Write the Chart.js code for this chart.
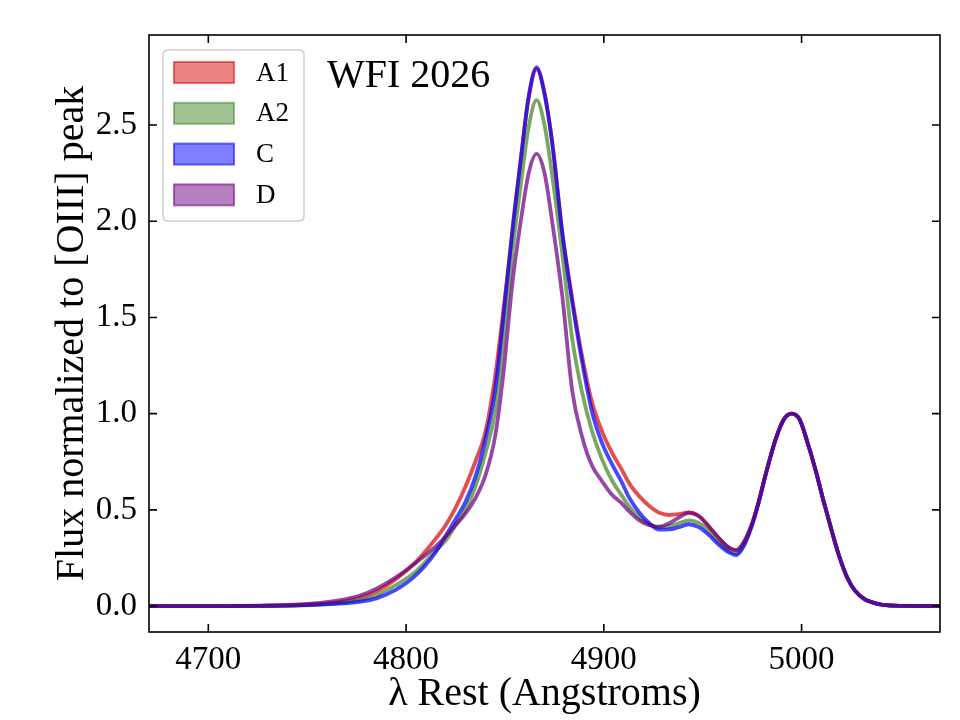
<!DOCTYPE html>
<html>
<head>
<meta charset="utf-8">
<script src="https://cdn.jsdelivr.net/npm/chart.js@4.4.1/dist/chart.umd.min.js"></script>
<style>
  html, body { margin: 0; padding: 0; background: #ffffff; }
  #wrap { width: 960px; height: 720px; position: relative; }
</style>
</head>
<body>
<div id="wrap"><canvas id="c" width="960" height="720"></canvas></div>
<script>
// ---- data ----
const lambda = [4670, 4707, 4726, 4746, 4766, 4776, 4785, 4795, 4805, 4815,
  4820, 4825, 4830, 4835, 4840, 4845, 4849, 4854, 4858, 4862,
  4866, 4870, 4874, 4879, 4884, 4889, 4894, 4899, 4904, 4909,
  4913, 4918, 4923, 4928, 4933, 4938, 4943, 4948, 4953, 4958,
  4963, 4967, 4971, 4975, 4978, 4982, 4987, 4991, 4995, 4999,
  5003, 5007, 5011, 5015, 5019, 5023, 5027, 5032, 5037, 5041,
  5051, 5070];

const fluxA1 = [0, 0, 0.001, 0.005, 0.02, 0.04, 0.075, 0.14, 0.23, 0.35,
  0.42, 0.51, 0.62, 0.75, 0.90, 1.19, 1.52, 1.96, 2.32, 2.64,
  2.79, 2.67, 2.40, 1.94, 1.60, 1.30, 1.06, 0.91, 0.80, 0.71,
  0.635, 0.57, 0.52, 0.485, 0.473, 0.478, 0.487, 0.468, 0.415, 0.355,
  0.305, 0.29, 0.335, 0.43, 0.53, 0.69, 0.87, 0.97, 1.0, 0.97,
  0.85, 0.71, 0.55, 0.40, 0.26, 0.15, 0.08, 0.035, 0.015, 0.006,
  0.001, 0];

const fluxA2 = [0, 0, 0.001, 0.004, 0.015, 0.03, 0.055, 0.11, 0.18, 0.29,
  0.34, 0.42, 0.50, 0.62, 0.79, 1.01, 1.36, 1.86, 2.19, 2.49,
  2.63, 2.50, 2.23, 1.83, 1.39, 1.11, 0.91, 0.765, 0.655, 0.575,
  0.515, 0.46, 0.425, 0.41, 0.415, 0.43, 0.445, 0.432, 0.39, 0.335,
  0.29, 0.275, 0.325, 0.425, 0.53, 0.69, 0.87, 0.97, 1.0, 0.97,
  0.85, 0.71, 0.55, 0.40, 0.26, 0.15, 0.08, 0.035, 0.015, 0.006,
  0.001, 0];

const fluxC = [0, 0, 0.001, 0.003, 0.012, 0.022, 0.04, 0.085, 0.16, 0.28,
  0.365, 0.45, 0.54, 0.67, 0.86, 1.12, 1.48, 1.98, 2.32, 2.65,
  2.80, 2.66, 2.40, 1.94, 1.58, 1.27, 1.01, 0.85, 0.74, 0.645,
  0.56, 0.485, 0.43, 0.397, 0.398, 0.41, 0.425, 0.41, 0.37, 0.32,
  0.28, 0.265, 0.315, 0.42, 0.525, 0.69, 0.87, 0.97, 1.0, 0.97,
  0.85, 0.71, 0.55, 0.40, 0.26, 0.15, 0.08, 0.035, 0.015, 0.006,
  0.001, 0];

const fluxD = [0, 0, 0.002, 0.008, 0.03, 0.052, 0.09, 0.15, 0.225, 0.31,
  0.36, 0.42, 0.48, 0.56, 0.675, 0.88, 1.19, 1.70, 2.0, 2.25,
  2.35, 2.25, 1.99, 1.61, 1.12, 0.88, 0.73, 0.65, 0.58, 0.535,
  0.49, 0.445, 0.42, 0.413, 0.43, 0.46, 0.484, 0.468, 0.415, 0.355,
  0.305, 0.29, 0.335, 0.43, 0.53, 0.69, 0.87, 0.97, 1.0, 0.97,
  0.85, 0.71, 0.55, 0.40, 0.26, 0.15, 0.08, 0.035, 0.015, 0.006,
  0.001, 0];

const seriesLabels = ['A1', 'A2', 'C', 'D'];
const xTicks = [4700, 4800, 4900, 5000];
const yTicks = [0, 0.5, 1.0, 1.5, 2.0, 2.5];
const titleText = 'WFI 2026';

// ---- styling ----
const FONT = "'Liberation Serif', 'DejaVu Serif', serif";
const baseRGB = ['215,10,10', '70,135,40', '0,0,255', '110,0,130'];
const seriesValues = [fluxA1, fluxA2, fluxC, fluxD];

const datasets = seriesLabels.map((lab, k) => ({
  label: lab,
  data: lambda.map((x, i) => ({ x: x, y: seriesValues[k][i] })),
  borderColor: 'rgba(' + baseRGB[k] + ',0.72)',
  backgroundColor: 'rgba(' + baseRGB[k] + ',0.5)',
  borderWidth: 3.8,
  pointRadius: 0,
  fill: false,
  cubicInterpolationMode: 'monotone',
  order: 3 - k
}));

const framePlugin = {
  id: 'frame',
  afterDatasetsDraw(chart) {
    const { ctx, chartArea: a, scales } = chart;
    ctx.save();
    ctx.strokeStyle = '#000';
    ctx.lineWidth = 1.6;
    ctx.strokeRect(a.left, a.top, a.right - a.left, a.bottom - a.top);
    const tl = 8;
    ctx.beginPath();
    xTicks.forEach(v => {
      const px = scales.x.getPixelForValue(v);
      ctx.moveTo(px, a.bottom); ctx.lineTo(px, a.bottom - tl);
      ctx.moveTo(px, a.top); ctx.lineTo(px, a.top + tl);
    });
    yTicks.forEach(v => {
      const py = scales.y.getPixelForValue(v);
      ctx.moveTo(a.left, py); ctx.lineTo(a.left + tl, py);
      ctx.moveTo(a.right, py); ctx.lineTo(a.right - tl, py);
    });
    ctx.stroke();

    // legend
    const lx = a.left + 14, ly = a.top + 15, lw = 141, lh = 171, r = 5;
    ctx.beginPath();
    ctx.moveTo(lx + r, ly);
    ctx.lineTo(lx + lw - r, ly); ctx.quadraticCurveTo(lx + lw, ly, lx + lw, ly + r);
    ctx.lineTo(lx + lw, ly + lh - r); ctx.quadraticCurveTo(lx + lw, ly + lh, lx + lw - r, ly + lh);
    ctx.lineTo(lx + r, ly + lh); ctx.quadraticCurveTo(lx, ly + lh, lx, ly + lh - r);
    ctx.lineTo(lx, ly + r); ctx.quadraticCurveTo(lx, ly, lx + r, ly);
    ctx.closePath();
    ctx.fillStyle = 'rgba(255,255,255,0.85)';
    ctx.fill();
    ctx.strokeStyle = '#d0d0d0';
    ctx.lineWidth = 1.5;
    ctx.stroke();
    seriesLabels.forEach((lab, k) => {
      const cy = ly + 22.5 + k * 40.8;
      ctx.fillStyle = 'rgba(' + baseRGB[k] + ',0.5)';
      ctx.fillRect(lx + 11, cy - 10.5, 60, 21);
      ctx.strokeStyle = 'rgba(' + baseRGB[k] + ',0.55)';
      ctx.lineWidth = 2;
      ctx.strokeRect(lx + 11, cy - 10.5, 60, 21);
      ctx.fillStyle = '#000';
      ctx.font = '27px ' + FONT;
      ctx.textBaseline = 'middle';
      ctx.textAlign = 'left';
      ctx.fillText(lab, lx + 93, cy + 1);
    });

    // title text inside axes
    ctx.fillStyle = '#000';
    ctx.font = '40px ' + FONT;
    ctx.textBaseline = 'alphabetic';
    ctx.textAlign = 'left';
    ctx.fillText(titleText, a.left + 178, a.top + 52);
    ctx.restore();
  }
};

new Chart(document.getElementById('c'), {
  type: 'line',
  data: { datasets: datasets },
  options: {
    responsive: false,
    animation: false,
    events: [],
    layout: { padding: { top: 35, right: 20, left: 0, bottom: 0 } },
    plugins: { legend: { display: false }, tooltip: { enabled: false } },
    scales: {
      x: {
        type: 'linear',
        min: 4670,
        max: 5070,
        grid: { display: false, drawTicks: false },
        border: { display: false },
        afterBuildTicks: s => { s.ticks = xTicks.map(v => ({ value: v })); },
        afterFit: s => { s.height = 88; },
        ticks: {
          color: '#000',
          padding: 9,
          font: { family: FONT, size: 33 },
          callback: v => String(v)
        },
        title: {
          display: true,
          text: 'λ Rest (Angstroms)',
          color: '#000',
          font: { family: FONT, size: 40 },
          padding: { top: 0, bottom: 2 }
        }
      },
      y: {
        type: 'linear',
        min: -0.135,
        max: 2.968,
        grid: { display: false, drawTicks: false },
        border: { display: false },
        afterBuildTicks: s => { s.ticks = yTicks.map(v => ({ value: v })); },
        afterFit: s => { s.width = 149; },
        ticks: {
          color: '#000',
          padding: 12,
          font: { family: FONT, size: 33 },
          callback: v => Number(v).toFixed(1)
        },
        title: {
          display: true,
          text: 'Flux normalized to [OIII] peak',
          color: '#000',
          font: { family: FONT, size: 40 },
          padding: { top: 48, bottom: 0 }
        }
      }
    }
  },
  plugins: [framePlugin]
});
</script>
</body>
</html>
